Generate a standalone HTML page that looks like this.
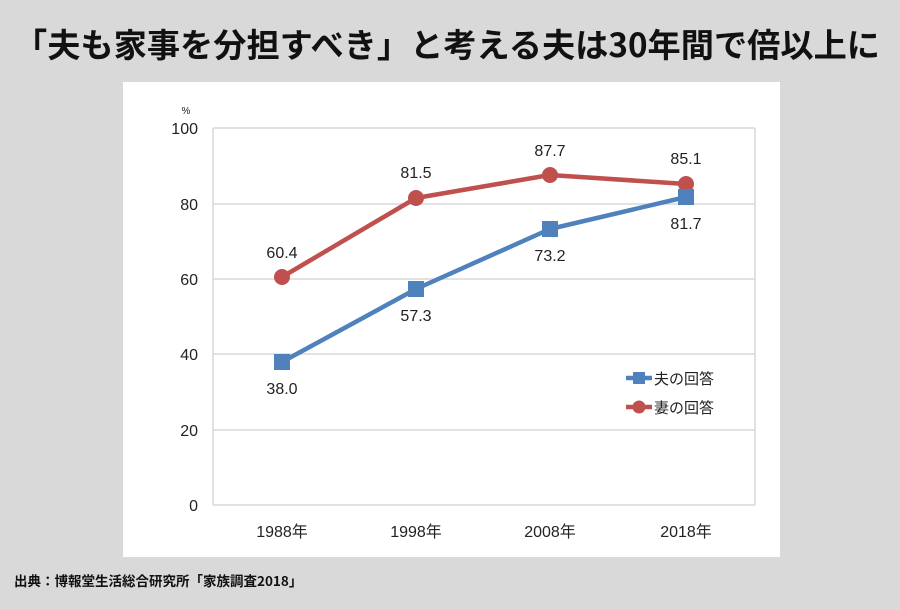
<!DOCTYPE html>
<html><head><meta charset="utf-8"><style>
html,body{margin:0;padding:0;}
body{width:900px;height:605px;background:#d9d9d9;overflow:hidden;font-family:"Liberation Sans","Noto Sans CJK JP",sans-serif;}
</style></head><body>
<svg width="900" height="605" viewBox="0 0 900 605" xmlns="http://www.w3.org/2000/svg" font-family="'Liberation Sans','Noto Sans CJK JP',sans-serif">
<rect width="900" height="605" fill="#d9d9d9"/>
<text x="14" y="57" textLength="866" lengthAdjust="spacingAndGlyphs" font-size="33" font-weight="bold" fill="#111" font-family="'Noto Sans CJK JP',sans-serif">「夫も家事を分担すべき」と考える夫は30年間で倍以上に</text>
<rect x="123" y="82" width="657" height="475" fill="#fff"/>
<g stroke="#d9d9d9" stroke-width="1.5">
<line x1="213" y1="128" x2="755" y2="128"/>
<line x1="213" y1="204" x2="755" y2="204"/>
<line x1="213" y1="279" x2="755" y2="279"/>
<line x1="213" y1="354" x2="755" y2="354"/>
<line x1="213" y1="430" x2="755" y2="430"/>
<line x1="213" y1="505" x2="755" y2="505"/>
<line x1="213" y1="128" x2="213" y2="505"/>
<line x1="755" y1="128" x2="755" y2="505"/>
</g>
<g font-size="16" fill="#222" text-anchor="end">
<text x="198" y="134">100</text><text x="198" y="210">80</text><text x="198" y="285">60</text>
<text x="198" y="360">40</text><text x="198" y="436">20</text><text x="198" y="511">0</text>
</g>
<text x="186" y="114" font-size="10" fill="#222" text-anchor="middle">%</text>
<g font-size="16" fill="#222" text-anchor="middle" font-family="'Liberation Sans','Noto Sans CJK JP',sans-serif">
<text x="282" y="537">1988年</text><text x="416" y="537">1998年</text><text x="550" y="537">2008年</text><text x="686" y="537">2018年</text>
</g>
<polyline points="282,277 416,198 550,175 686,184" fill="none" stroke="#c0504d" stroke-width="4.5" stroke-linejoin="round"/>
<g fill="#c0504d"><circle cx="282" cy="277" r="8"/><circle cx="416" cy="198" r="8"/><circle cx="550" cy="175" r="8"/><circle cx="686" cy="184" r="8"/></g>
<polyline points="282,362 416,289 550,229 686,197" fill="none" stroke="#4f81bd" stroke-width="4.5" stroke-linejoin="round"/>
<g fill="#4f81bd"><rect x="274" y="354" width="16" height="16"/><rect x="408" y="281" width="16" height="16"/><rect x="542" y="221" width="16" height="16"/><rect x="678" y="189" width="16" height="16"/></g>
<g font-size="16" fill="#222" text-anchor="middle">
<text x="282" y="258">60.4</text><text x="416" y="178">81.5</text><text x="550" y="156">87.7</text><text x="686" y="164">85.1</text>
<text x="282" y="394">38.0</text><text x="416" y="321">57.3</text><text x="550" y="261">73.2</text><text x="686" y="229">81.7</text>
</g>
<line x1="626" y1="378" x2="652" y2="378" stroke="#4f81bd" stroke-width="4.5"/>
<rect x="633" y="372" width="12" height="12" fill="#4f81bd"/>
<line x1="626" y1="407" x2="652" y2="407" stroke="#c0504d" stroke-width="4.5"/>
<circle cx="639" cy="407" r="6.5" fill="#c0504d"/>
<g font-size="15" fill="#222" font-family="'Noto Sans CJK JP',sans-serif">
<text x="654" y="384">夫の回答</text><text x="654" y="413">妻の回答</text>
</g>
<text x="14" y="586" font-size="13.5" font-weight="bold" fill="#111" font-family="'Noto Sans CJK JP',sans-serif">出典：博報堂生活総合研究所「家族調査2018」</text>
</svg>
</body></html>
